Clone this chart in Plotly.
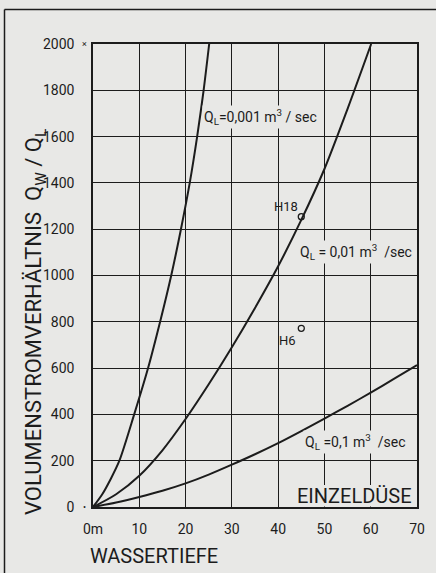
import plotly.graph_objects as go

# ---- data ----
depth_q001 = [0, 2, 3.8, 5.7, 8.9, 11.9, 14.5, 16.9, 19.0, 20.9, 22.5, 23.9, 25.1]
ratio_q001 = [0, 55, 120, 200, 400, 600, 800, 1000, 1200, 1400, 1600, 1800, 2000]

depth_q01 = [0, 5, 10, 15, 20, 25, 30, 35, 40, 45, 50, 55, 60.1]
ratio_q01 = [0, 55, 135, 245, 380, 530, 690, 860, 1040, 1240, 1460, 1720, 2000]

depth_q1 = [0, 5, 10, 15, 20, 25, 30, 35, 40, 45, 50, 55, 60, 65, 70]
ratio_q1 = [0, 19, 43, 70, 102, 140, 183, 228, 276, 328, 382, 437, 494, 553, 613]

points_name = ["H18", "H6"]
points_depth = [45.0, 45.0]
points_ratio = [1254, 772]

x_ticks = [0, 10, 20, 30, 40, 50, 60, 70]
x_ticktext = ["0m", "10", "20", "30", "40", "50", "60", "70"]
y_ticks = list(range(0, 2001, 200))
y_ticktext = [str(v) for v in y_ticks]

BG = "#e8e8e6"
INK = "#1c1c1c"
FONT = "Roboto"

fig = go.Figure()
for xs, ys in [(depth_q001, ratio_q001), (depth_q01, ratio_q01), (depth_q1, ratio_q1)]:
    fig.add_trace(go.Scatter(x=xs, y=ys, mode="lines",
                             line=dict(color=INK, width=2, shape="spline", smoothing=0.8),
                             showlegend=False, hoverinfo="skip"))

fig.add_trace(go.Scatter(x=points_depth, y=points_ratio, mode="markers",
                         marker=dict(symbol="circle-open", size=6, color=INK, line=dict(width=1.3)),
                         showlegend=False, hoverinfo="skip"))

W, H = 436, 573
L, R, T, B = 93, 19, 44, 66
pw, ph = W - L - R, H - T - B

def px(xp):
    return (xp - L) / pw

def py(yp):
    return (H - B - yp) / ph

def ann(x, y, text, size, xanchor="center", **kw):
    d = dict(x=x, y=y, xref="paper", yref="paper", text=text, showarrow=False,
             xanchor=xanchor, yanchor="middle", font=dict(family=FONT, size=size, color=INK))
    d.update(kw)
    return d

annotations = []
# point labels
annotations.append(dict(x=points_depth[0], y=points_ratio[0], xref="x", yref="y", text=points_name[0],
                        showarrow=False, xanchor="right", yanchor="middle", xshift=-1, yshift=10,
                        font=dict(family=FONT, size=13, color=INK)))
annotations.append(dict(x=points_depth[1], y=points_ratio[1], xref="x", yref="y", text=points_name[1],
                        showarrow=False, xanchor="right", yanchor="middle", xshift=-3, yshift=-12,
                        font=dict(family=FONT, size=13, color=INK)))
# curve labels
annotations.append(ann(px(260), py(117), "Q<sub>L</sub>=0,001 m<sup>3</sup> / sec", 14,
                       bgcolor=BG, borderpad=1))
annotations.append(ann(px(356), py(252), "Q<sub>L</sub> = 0,01 m<sup>3</sup>  /sec", 14,
                       bgcolor=BG, borderpad=1))
annotations.append(ann(px(355), py(442), "Q<sub>L</sub> =0,1 m<sup>3</sup>  /sec", 14,
                       bgcolor=BG, borderpad=1))
annotations.append(ann(px(414), py(496), "EINZELDÜSE", 20, xanchor="right"))
# axis titles
annotations.append(ann(px(88), py(556), "WASSERTIEFE", 20, xanchor="left"))
annotations.append(ann(px(35), py(322), "VOLUMENSTROMVERHÄLTNIS  Q<sub>W</sub> / Q<sub>L</sub>", 22,
                       textangle=-90))
# small marks next to 2000 and 0
for yv, sym in [(2000, "×"), (0, "•")]:
    annotations.append(dict(x=px(84), y=yv, xref="paper", yref="y", text=sym, showarrow=False,
                            xanchor="center", yanchor="middle",
                            font=dict(family=FONT, size=9, color=INK)))

shapes = [
    # outer frame (left and top edges)
    dict(type="line", xref="paper", yref="paper", x0=px(4.5), x1=px(4.5), y0=py(9.5), y1=py(600),
         line=dict(color=INK, width=1.5)),
    dict(type="line", xref="paper", yref="paper", x0=px(4.5), x1=px(440), y0=py(9.5), y1=py(9.5),
         line=dict(color=INK, width=1.5)),
    # blanked box behind EINZELDÜSE
    dict(type="rect", xref="x", yref="y", x0=43.3, x1=69.8, y0=2, y1=95,
         fillcolor=BG, line=dict(width=0), layer="between"),
]

fig.update_layout(
    width=W, height=H,
    margin=dict(l=L, r=R, t=T, b=B),
    paper_bgcolor=BG, plot_bgcolor=BG,
    font=dict(family=FONT, color=INK),
    annotations=annotations, shapes=shapes,
    xaxis=dict(range=[0, 70], tickvals=x_ticks, ticktext=x_ticktext,
               showgrid=True, gridcolor=INK, gridwidth=1.3,
               showline=True, linecolor=INK, linewidth=1.5, mirror=True,
               zeroline=False, ticks="", ticklabelstandoff=8,
               tickfont=dict(family=FONT, size=14, color=INK)),
    yaxis=dict(range=[0, 2000], tickvals=y_ticks, ticktext=y_ticktext,
               showgrid=True, gridcolor=INK, gridwidth=1.3,
               showline=True, linecolor=INK, linewidth=1.5, mirror=True,
               zeroline=False, ticks="", ticklabelstandoff=14,
               tickfont=dict(family=FONT, size=14, color=INK)),
)

fig.write_html("out.html",
               config={"displayModeBar": False},
               post_script="document.body.style.margin='0px';"
                           "document.body.style.background='#e8e8e6';")
